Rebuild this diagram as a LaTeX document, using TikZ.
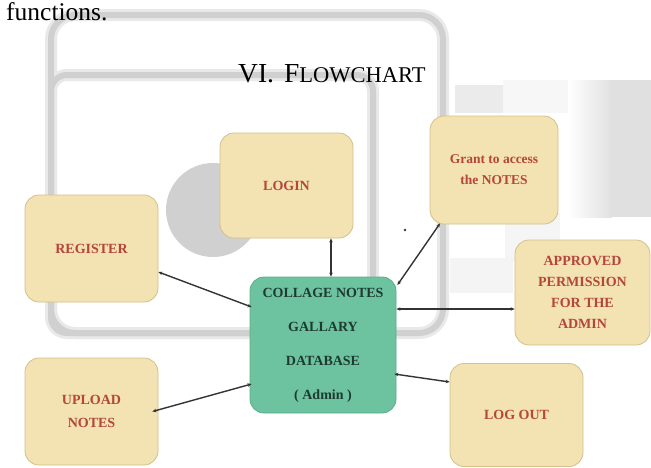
\documentclass[tikz,border=0pt]{standalone}
\usepackage{fontspec}
\setmainfont{Liberation Serif}
\usetikzlibrary{arrows.meta}
\definecolor{boxfill}{HTML}{F3E2B2}
\definecolor{boxline}{HTML}{D3C08A}
\definecolor{boxtext}{HTML}{B4463A}
\definecolor{dbfill}{HTML}{6DC29F}
\definecolor{dbline}{HTML}{5AAE8B}
\definecolor{dbtext}{HTML}{1E3B33}
\definecolor{conn}{HTML}{333333}
\definecolor{wm}{HTML}{D0D0D0}
\definecolor{wml}{HTML}{E9E9E9}
\tikzset{
  ybox/.style={draw=boxline, fill=boxfill, rounded corners=14pt, line width=0.8pt,
    minimum width=133pt, inner sep=0pt, text=boxtext, align=center,
    font=\fontsize{14}{21}\selectfont\bfseries},
  dbbox/.style={draw=dbline, fill=dbfill, rounded corners=14pt, line width=0.8pt,
    minimum width=146pt, minimum height=136pt, inner sep=0pt, text=dbtext, align=center,
    font=\fontsize{14}{34}\selectfont\bfseries},
  link/.style={draw=conn, line width=1.4pt,
    {Stealth[length=4pt,width=3.5pt]}-{Stealth[length=4pt,width=3.5pt]}},
  wmband/.style={wml, line width=12pt},
  wmcore/.style={wm, line width=6pt}
}
\begin{document}
\begin{tikzpicture}[x=1pt,y=-1pt]
\useasboundingbox (0,0) rectangle (651,467);
\fill[white] (0,0) rectangle (651,467);
% watermark
\fill[gray!6] (503,80) rectangle (600,113);
\fill[gray!16] (455,85) rectangle (503,113);
\shade[left color=white, right color=gray!24] (568,80) rectangle (612,217);
\fill[gray!24] (612,80) rectangle (651,217);
\fill[gray!8] (505,213) rectangle (560,262);
\fill[gray!9] (450,258) rectangle (513,293);
\fill[wm] (213,210) circle (47);
\draw[wmband, rounded corners=24pt] (51,15) rectangle (443,333);
\draw[wmband, rounded corners=16pt] (51,75) rectangle (373,333);
\draw[wmcore, rounded corners=24pt] (51,15) rectangle (443,333);
\draw[wmcore, rounded corners=16pt] (51,75) rectangle (373,333);
% texts
\node[anchor=base west, inner sep=0pt, font=\fontsize{25.5}{25.5}\selectfont] (fn) at (6,20.5) {functions.};
\node[anchor=base west, inner sep=0pt, font=\fontsize{27.5}{27.5}\selectfont] (title) at (238,82)
  {VI.\hspace{10pt}F{\fontsize{22.5}{22.5}\selectfont LOWCHART}};
% boxes
\node[ybox, minimum height=105pt] (login) at (286.5,185.5) {LOGIN};
\node[ybox, minimum height=107pt] (register) at (91.5,248.5) {REGISTER};
\node[ybox, minimum height=108pt, minimum width=128pt, font=\fontsize{13.5}{21}\selectfont\bfseries] (grant) at (494,170) {Grant to access\\the NOTES};
\node[ybox, minimum height=105pt, minimum width=135pt] (approved) at (582.5,292.5) {APPROVED\\PERMISSION\\FOR THE\\ADMIN};
\node[ybox, minimum height=107pt, font=\fontsize{14}{23}\selectfont\bfseries] (upload) at (91.5,411.5) {UPLOAD\\NOTES};
\node[ybox, minimum height=103pt] (logout) at (516.5,415) {LOG OUT};
\node[dbbox] (db) at (323,345) {COLLAGE NOTES\\GALLARY\\DATABASE\\( Admin )};
% connectors
\draw[link] ([xshift=44.5pt]login.south) -- ([xshift=8pt]db.north);
\draw[link] ([yshift=-23.5pt]register.east) -- ([xshift=2pt,yshift=38pt]db.west);
\draw[link] ([xshift=-6pt]upload.east) -- ([xshift=2pt,yshift=-39pt]db.west);
\draw[link] ([xshift=-54pt,yshift=1pt]grant.south) -- ([xshift=1pt,yshift=60pt]db.east);
\draw[link] ([yshift=36pt]db.east) -- ([yshift=-16.5pt]approved.west);
\draw[link] ([xshift=-2pt,yshift=-29pt]db.east) -- ([yshift=33pt]logout.west);
\coordinate (speck) at (405,230);
\fill[conn] (speck) circle (1.3);
\end{tikzpicture}
\end{document}
